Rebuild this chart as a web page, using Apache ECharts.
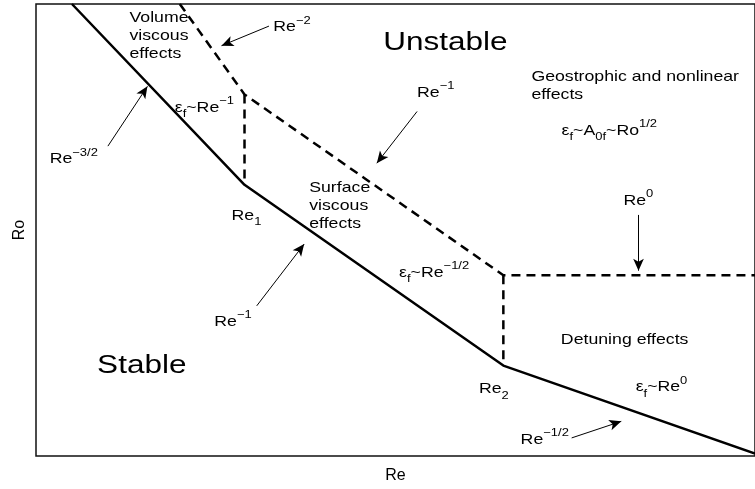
<!DOCTYPE html>
<html>
<head>
<meta charset="utf-8">
<script src="https://cdn.jsdelivr.net/npm/echarts@6/dist/echarts.min.js"></script>
<style>
  html, body { margin: 0; padding: 0; background: #fff; }
  #main { width: 755px; height: 489px; }
</style>
</head>
<body>
<div id="main"></div>
<script>
// axes are log10(Re) and log10(Ro), arbitrary decades
var stableBoundary = [[0.5, 9], [2.9, 5.4], [6.5, 1.8], [10, 0.05]]
var regimeBoundary = [[2.0, 9], [2.9, 7.2], [6.5, 3.6], [10, 3.6]]
var re1Divider = [[2.9, 7.2], [2.9, 5.4]]
var re2Divider = [[6.5, 3.6], [6.5, 1.8]]

// arrows: [from, to] in data units
var arrows = [
  [[3.24, 8.56], [2.58, 8.17]],
  [[5.30, 6.86], [4.74, 5.83]],
  [[8.38, 4.80], [8.38, 3.69]],
  [[1.00, 6.17], [1.55, 7.36]],
  [[3.07, 2.99], [3.73, 4.22]],
  [[7.45, 0.36], [8.14, 0.69]]
]

// text notes anchored at their left edge, vertical middle
var noteTexts = [
  'Volume\nviscous\neffects',
  '{n|Re}{sup|\u22122}',
  'Unstable',
  'Geostrophic and nonlinear\neffects',
  '{n|\u03b5}{sub|f}{n|~A}{sub|0f}{n|~Ro}{sup|1/2}',
  '{n|Re}{sup|\u22121}',
  '{n|Re}{sup|0}',
  '{n|\u03b5}{sub|f}{n|~Re}{sup|\u22121}',
  '{n|Re}{sup|\u22123/2}',
  '{n|Re}{sub|1}',
  'Surface\nviscous\neffects',
  '{n|Re}{sup|\u22121}',
  'Stable',
  '{n|\u03b5}{sub|f}{n|~Re}{sup|\u22121/2}',
  'Detuning effects',
  '{n|Re}{sub|2}',
  '{n|\u03b5}{sub|f}{n|~Re}{sup|0}',
  '{n|Re}{sup|\u22121/2}'
]
var noteRe = [1.30, 3.30, 4.83, 6.89, 7.31, 5.30, 8.17, 1.93, 0.19, 2.72, 3.80, 2.48, 0.85, 5.05, 7.30, 6.16, 8.34, 6.74]
var noteRo = [8.37, 8.54, 8.23, 7.37, 6.48, 7.24, 5.09, 6.94, 5.91, 4.78, 4.98, 2.68, 1.78, 3.65, 2.32, 1.33, 1.37, 0.32]
var noteBig = ['Unstable', 'Stable']

var FONT = '"Liberation Sans", Arial, Helvetica, sans-serif'
var chart = echarts.init(document.getElementById('main'))

function lineSeries(data, dashed) {
  return {
    type: 'line',
    data: data,
    symbol: 'none',
    silent: true,
    lineStyle: { color: '#000', width: 2.5, type: dashed ? [9, 6] : 'solid' }
  }
}

var markData = arrows.map(function (a) {
  return [{ coord: a[0], symbol: 'none' }, { coord: a[1], symbol: 'arrow', symbolSize: [8, 12] }]
})

var solid = lineSeries(stableBoundary, false)
solid.markLine = {
  silent: true,
  animation: false,
  label: { show: false },
  lineStyle: { color: '#000', width: 1, type: 'solid' },
  data: markData
}

var option = {
  animation: false,
  grid: {
    left: 36, top: 4, width: 721, bottom: 31,
    show: true, borderColor: '#111', borderWidth: 1.5
  },
  xAxis: {
    type: 'value', min: 0, max: 10,
    name: 'Re', nameLocation: 'middle', nameGap: 12,
    nameTextStyle: { fontSize: 16, color: '#000', fontFamily: FONT },
    axisLine: { show: false }, axisTick: { show: false },
    axisLabel: { show: false }, splitLine: { show: false }
  },
  yAxis: {
    type: 'value', min: 0, max: 9,
    name: 'Ro', nameLocation: 'middle', nameGap: 8, nameRotate: 90,
    nameTextStyle: { fontSize: 16, color: '#000', fontFamily: FONT },
    axisLine: { show: false }, axisTick: { show: false },
    axisLabel: { show: false }, splitLine: { show: false }
  },
  series: [
    solid,
    lineSeries(regimeBoundary, true),
    lineSeries(re1Divider, true),
    lineSeries(re2Divider, true)
  ]
}
chart.setOption(option)

var rich = {
  n: { fontSize: 15, lineHeight: 24, verticalAlign: 'middle', fontFamily: FONT },
  sup: { fontSize: 11, lineHeight: 12, verticalAlign: 'top', fontFamily: FONT },
  sub: { fontSize: 11, lineHeight: 10, verticalAlign: 'bottom', fontFamily: FONT }
}

var graphic = noteTexts.map(function (t, i) {
  var p = chart.convertToPixel({ gridIndex: 0 }, [noteRe[i], noteRo[i]])
  var big = noteBig.indexOf(t) >= 0
  return {
    type: 'text',
    x: p[0], y: p[1],
    scaleX: big ? 1.26 : 1.18,
    silent: true,
    style: {
      text: t,
      rich: rich,
      fontSize: big ? 25 : 15,
      lineHeight: t.indexOf('\n') >= 0 ? 18 : null,
      fontFamily: FONT,
      fill: '#000',
      align: 'left', verticalAlign: 'middle',
      textAlign: 'left', textVerticalAlign: 'middle'
    }
  }
})
chart.setOption({ graphic: graphic })
</script>
</body>
</html>
